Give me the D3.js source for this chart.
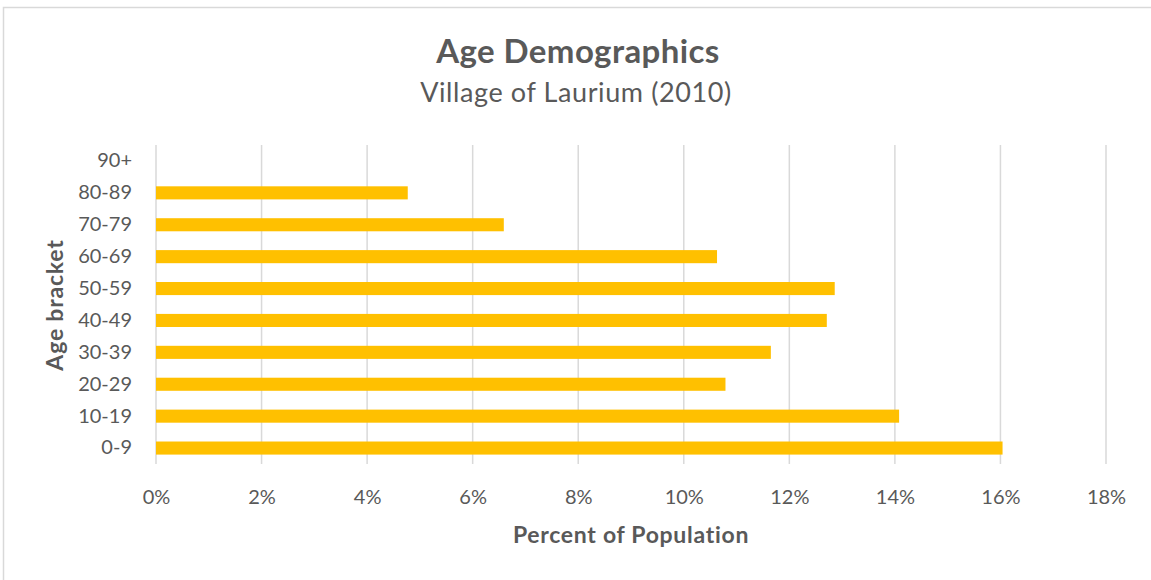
<!DOCTYPE html>
<html>
<head>
<meta charset="utf-8">
<script src="https://cdn.jsdelivr.net/npm/d3@7"></script>
<style>
  body { margin: 0; background: #fff; }
  text { font-family: Lato, "Open Sans", sans-serif; fill: #595959; }
</style>
</head>
<body>
<svg id="chart" width="1151" height="580"></svg>
<script>
// age brackets, bottom to top as in the picture
const brackets = ["0-9", "10-19", "20-29", "30-39", "40-49", "50-59", "60-69", "70-79", "80-89", "90+"];
// share of population in each bracket (percent)
const shares = [16.04, 14.08, 10.79, 11.65, 12.71, 12.86, 10.63, 6.59, 4.77, 0];
const xTicks = [0, 2, 4, 6, 8, 10, 12, 14, 16, 18];

const svg = d3.select("#chart");
const margin = { left: 156, right: 45, top: 145, bottom: 116 };
const width = 1151 - margin.left - margin.right;
const height = 580 - margin.top - margin.bottom;

// outer chart border (runs off the bottom/right edge)
svg.append("rect")
   .attr("x", 3.5).attr("y", 7.5)
   .attr("width", 1200).attr("height", 600)
   .attr("fill", "none").attr("stroke", "#d9d9d9").attr("stroke-width", 1.5);

const x = d3.scaleLinear().domain([0, 18]).range([0, width]);
const y = d3.scaleBand().domain(brackets.slice().reverse()).range([0, height]).paddingInner(0.59).paddingOuter(0.295);

const g = svg.append("g").attr("transform", `translate(${margin.left},${margin.top})`);

// vertical gridlines
g.selectAll(".grid").data(xTicks).join("line")
 .attr("class", "grid")
 .attr("x1", d => x(d)).attr("x2", d => x(d))
 .attr("y1", 0).attr("y2", height)
 .attr("stroke", "#d9d9d9").attr("stroke-width", 1.5);

// bars
g.selectAll(".bar").data(brackets).join("rect")
 .attr("class", "bar")
 .attr("x", 0)
 .attr("y", d => y(d))
 .attr("width", (d, i) => x(shares[i]))
 .attr("height", y.bandwidth())
 .attr("fill", "#ffc000");

// x axis labels
const xAxis = d3.axisBottom(x).tickValues(xTicks).tickFormat(d => d + "%").tickSize(0).tickPadding(26);
g.append("g").attr("transform", `translate(0,${height})`).call(xAxis)
 .call(a => a.select(".domain").remove())
 .selectAll("text").style("font-size", "20px").attr("fill", "#595959");

// y axis labels
const yAxis = d3.axisLeft(y).tickSize(0).tickPadding(24);
g.append("g").call(yAxis)
 .call(a => a.select(".domain").remove())
 .selectAll("text").style("font-size", "20px").attr("fill", "#595959");

// titles
svg.append("text").attr("x", 578).attr("y", 63).attr("text-anchor", "middle")
   .style("font-size", "33px").style("font-weight", "bold").style("letter-spacing", "0.4px")
   .text("Age Demographics");
svg.append("text").attr("x", 576).attr("y", 102).attr("text-anchor", "middle")
   .style("font-size", "27px").style("letter-spacing", "0.6px")
   .text("Village of Laurium (2010)");
svg.append("text").attr("x", 631).attr("y", 543).attr("text-anchor", "middle")
   .style("font-size", "23px").style("font-weight", "bold").style("letter-spacing", "0.7px")
   .text("Percent of Population");
svg.append("text").attr("transform", "translate(63,305) rotate(-90)").attr("text-anchor", "middle")
   .style("font-size", "23px").style("font-weight", "bold").style("letter-spacing", "0.8px")
   .text("Age bracket");
</script>
</body>
</html>
